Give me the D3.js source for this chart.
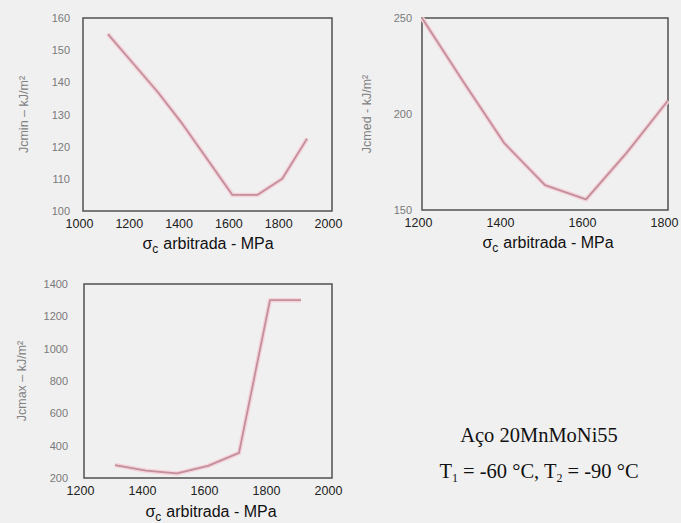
<!DOCTYPE html>
<html>
<head>
<meta charset="utf-8">
<script src="https://cdn.jsdelivr.net/npm/d3@7"></script>
<style>
  body { margin: 0; background: #f0f0f0; }
  svg { display: block; }
</style>
</head>
<body>
<script>
// Jcmin panel
var sigmaMin = [1100, 1200, 1300, 1400, 1500, 1600, 1700, 1800, 1900];
var jcMin    = [155, 146, 137, 127, 116, 105, 105, 110, 122.5];
var ticksMinX = [1000, 1200, 1400, 1600, 1800, 2000];
var ticksMinY = [100, 110, 120, 130, 140, 150, 160];

// Jcmed panel
var sigmaMed = [1200, 1300, 1400, 1500, 1600, 1700, 1800];
var jcMed    = [250, 217, 185, 163, 155.5, 180, 207];
var ticksMedX = [1200, 1400, 1600, 1800];
var ticksMedY = [150, 200, 250];

// Jcmax panel
var sigmaMax = [1300, 1400, 1500, 1600, 1700, 1800, 1900];
var jcMax    = [280, 245, 228, 275, 355, 1300, 1300];
var ticksMaxX = [1200, 1400, 1600, 1800, 2000];
var ticksMaxY = [200, 400, 600, 800, 1000, 1200, 1400];

var width = 681, height = 523;
var sans = "Liberation Sans, Arial, sans-serif";

var svg = d3.select("body").append("svg")
  .attr("width", width)
  .attr("height", height);

// draws one framed panel
function panel(p) {
  var x = d3.scaleLinear().domain(p.xDomain).range([p.left, p.right]);
  var y = d3.scaleLinear().domain(p.yDomain).range([p.bottom, p.top]);
  var g = svg.append("g");

  // tick labels sit a little left of the grid in the scan
  var xAxis = d3.axisBottom(x).tickValues(p.xTicks).tickFormat(d3.format("d"))
    .tickSize(0).tickPadding(8);
  g.append("g")
    .attr("transform", "translate(-4," + p.bottom + ")")
    .call(xAxis)
    .call(function(a) { a.select(".domain").remove(); })
    .selectAll("text")
    .style("font-family", sans)
    .style("font-size", "12.5px")
    .style("fill", "#222");

  var yAxis = d3.axisLeft(y).tickValues(p.yTicks).tickFormat(d3.format("d"))
    .tickSize(0).tickPadding(p.yPad);
  g.append("g")
    .attr("transform", "translate(" + p.left + ",0)")
    .call(yAxis)
    .call(function(a) { a.select(".domain").remove(); })
    .selectAll("text")
    .style("font-family", sans)
    .style("font-size", "11px")
    .style("fill", "#7a7a7a");

  // frame
  g.append("rect")
    .attr("x", p.left).attr("y", p.top)
    .attr("width", p.right - p.left).attr("height", p.bottom - p.top)
    .attr("fill", "none")
    .attr("stroke", "#5a5a5a")
    .attr("stroke-width", 1.6);

  var pts = p.xs.map(function(d, i) { return [d, p.ys[i]]; });
  var line = d3.line().x(function(d) { return x(d[0]); }).y(function(d) { return y(d[1]); });

  // pale halo then the core of the curve
  g.append("path").datum(pts)
    .attr("d", line).attr("fill", "none")
    .attr("stroke", "#f4d2da").attr("stroke-width", 4.5)
    .attr("stroke-linejoin", "round");
  g.append("path").datum(pts)
    .attr("d", line).attr("fill", "none")
    .attr("stroke", "#c28f9a").attr("stroke-width", 1.8)
    .attr("stroke-linejoin", "round");

  // y title
  g.append("text")
    .attr("transform", "translate(" + p.yTitleX + "," + ((p.top + p.bottom) / 2) + ") rotate(-90)")
    .attr("text-anchor", "middle")
    .style("font-family", sans)
    .style("font-size", "12.5px")
    .style("fill", "#808080")
    .text(p.yTitle);

  // x title with sigma subscript
  var t = g.append("text")
    .attr("x", p.xTitleX).attr("y", p.xTitleY)
    .attr("text-anchor", "middle")
    .style("font-family", sans)
    .style("font-size", "16px")
    .style("fill", "#111");
  t.append("tspan").text("σ");
  t.append("tspan").attr("dy", 4).style("font-size", "12px").text("c");
  t.append("tspan").attr("dy", -4).attr("dx", 5).text("arbitrada - MPa");
}

panel({
  left: 83, right: 332, top: 18, bottom: 211,
  xDomain: [1000, 2000], yDomain: [100, 160],
  xTicks: ticksMinX, yTicks: ticksMinY, yPad: 13,
  xs: sigmaMin, ys: jcMin,
  yTitle: "Jcmin – kJ/m²", yTitleX: 28,
  xTitleX: 208, xTitleY: 249
});

panel({
  left: 422, right: 668, top: 18, bottom: 210,
  xDomain: [1200, 1800], yDomain: [150, 250],
  xTicks: ticksMedX, yTicks: ticksMedY, yPad: 10,
  xs: sigmaMed, ys: jcMed,
  yTitle: "Jcmed - kJ/m²", yTitleX: 371,
  xTitleX: 548, xTitleY: 248
});

panel({
  left: 84, right: 332, top: 284, bottom: 478,
  xDomain: [1200, 2000], yDomain: [200, 1400],
  xTicks: ticksMaxX, yTicks: ticksMaxY, yPad: 16,
  xs: sigmaMax, ys: jcMax,
  yTitle: "Jcmax – kJ/m²", yTitleX: 26,
  xTitleX: 211, xTitleY: 517
});

// material note
var note = svg.append("g")
  .style("font-family", "Liberation Serif, Times New Roman, serif")
  .style("font-size", "20.5px")
  .style("fill", "#111");
note.append("text")
  .attr("x", 539).attr("y", 442)
  .attr("text-anchor", "middle")
  .text("Aço 20MnMoNi55");
var t2 = note.append("text")
  .attr("x", 539).attr("y", 478)
  .attr("text-anchor", "middle");
t2.append("tspan").text("T");
t2.append("tspan").attr("dy", 4).style("font-size", "12px").text("1");
t2.append("tspan").attr("dy", -4).text(" = -60 °C, T");
t2.append("tspan").attr("dy", 4).style("font-size", "12px").text("2");
t2.append("tspan").attr("dy", -4).text(" = -90 °C");
</script>
</body>
</html>
